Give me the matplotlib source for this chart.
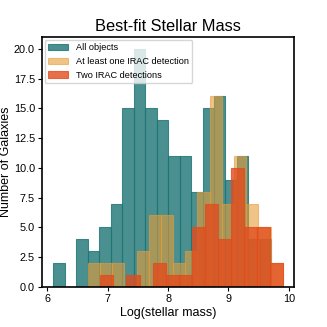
import numpy as np
import matplotlib
matplotlib.use("Agg")
import matplotlib.pyplot as plt

plt.rcParams['font.family'] = ['Liberation Sans', 'DejaVu Sans']

# Histogram data (counts per bin, bin range)
all_range = (6.10, 9.71)
all_counts = [2, 0, 4, 3, 5, 7, 15, 20, 15, 14, 11, 11, 8, 15, 16, 9, 11, 4, 4]

one_range = (6.67, 9.90)
one_counts = [2, 2, 2, 0, 3, 6, 6, 2, 3, 8, 16, 7, 11, 7, 5, 2]

two_range = (6.88, 9.90)
two_counts = [1, 0, 1, 0, 2, 1, 1, 5, 7, 4, 10, 5, 5, 2]

labels = ["All objects", "At least one IRAC detection", "Two IRAC detections"]
colors = ["#1d7474", "#e69d39", "#e24c1d"]
alphas = [0.8, 0.6, 0.8]

fig = plt.figure(figsize=(3.27, 3.27), dpi=100)
ax = fig.add_axes([0.128, 0.123, 0.772, 0.764])

for rng, counts, lab, c, a in zip([all_range, one_range, two_range],
                                  [all_counts, one_counts, two_counts],
                                  labels, colors, alphas):
    edges = np.linspace(rng[0], rng[1], len(counts) + 1)
    centers = 0.5 * (edges[:-1] + edges[1:])
    ax.hist(centers, bins=edges, weights=counts, color=c, alpha=a,
            edgecolor=c, linewidth=0.8, label=lab)

ax.set_title("Best-fit Stellar Mass", fontsize=11.8, pad=4)
ax.set_xlabel("Log(stellar mass)", fontsize=9, labelpad=2)
ax.set_ylabel("Number of Galaxies", fontsize=9, labelpad=1)
ax.tick_params(labelsize=7.8, length=3, width=0.8, pad=2)
ax.set_xticks([6, 7, 8, 9, 10])
for s in ax.spines.values():
    s.set_linewidth(1.2)
ax.legend(loc="upper left", fontsize=6.6, borderaxespad=0.3, handlelength=2.2,
          framealpha=0.8)

fig.savefig("out.png", dpi=100)
